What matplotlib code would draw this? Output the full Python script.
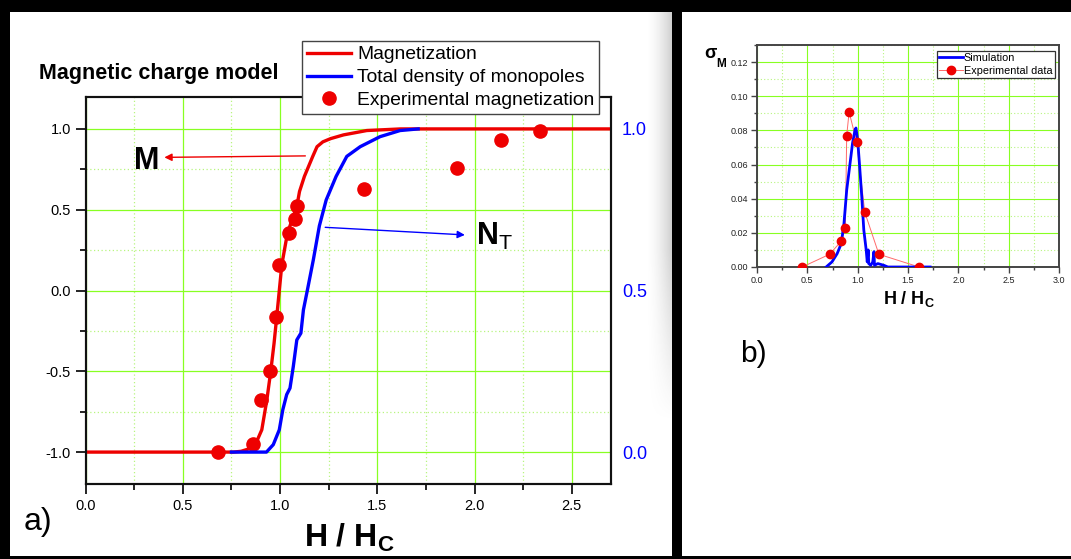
import matplotlib
matplotlib.use("Agg")
import matplotlib.pyplot as plt
import numpy as np
from matplotlib.patches import Rectangle
from matplotlib.lines import Line2D
from matplotlib.ticker import MultipleLocator, FormatStrFormatter

plt.rcParams['font.family'] = ['Liberation Sans', 'DejaVu Sans']
plt.rcParams['mathtext.fontset'] = 'custom'
plt.rcParams['mathtext.rm'] = 'Liberation Sans'
plt.rcParams['mathtext.bf'] = 'Liberation Sans:bold'
plt.rcParams['mathtext.it'] = 'Liberation Sans:italic'
plt.rcParams['axes.unicode_minus'] = False

# panel a) magnetic charge model
h_model = [0.0, 0.76, 0.80, 0.84, 0.863, 0.885, 0.906, 0.932, 0.952, 0.969, 0.983,
           0.996, 1.009, 1.038, 1.086, 1.10, 1.125, 1.168, 1.19, 1.22, 1.26, 1.326,
           1.446, 1.62, 2.7]
m_model = [-1.0, -1.0, -0.995, -0.98, -0.965, -0.92, -0.862, -0.677, -0.5, -0.327, -0.16,
           0.0, 0.16, 0.356, 0.52, 0.613, 0.706, 0.83, 0.89, 0.92, 0.94, 0.963,
           0.99, 1.0, 1.0]

h_nt = [0.75, 0.93, 0.965, 0.996, 1.014, 1.034, 1.051, 1.068, 1.086, 1.107, 1.12,
        1.14, 1.171, 1.202, 1.237, 1.288, 1.343, 1.412, 1.514, 1.617, 1.71]
nt_model = [0.0, 0.0, 0.023, 0.069, 0.131, 0.178, 0.198, 0.265, 0.347, 0.368, 0.44,
            0.5, 0.595, 0.70, 0.78, 0.853, 0.915, 0.945, 0.976, 0.995, 1.0]

h_exp = [0.682, 0.86, 0.903, 0.95, 0.98, 0.995, 1.048, 1.077, 1.086, 1.432, 1.909, 2.135, 2.334]
m_exp = [-1.0, -0.95, -0.68, -0.5, -0.166, 0.16, 0.356, 0.444, 0.52, 0.63, 0.757, 0.932, 0.988]

# panel b) sigma_M
h_sim = [0.687, 0.745, 0.796, 0.837, 0.864, 0.891, 0.925, 0.949, 0.973, 0.983, 1.0,
         1.017, 1.041, 1.061, 1.085, 1.095, 1.105, 1.11, 1.13, 1.15, 1.162, 1.167,
         1.2, 1.26, 1.3, 1.72]
sig_sim = [0.0, 0.003, 0.0078, 0.0137, 0.0255, 0.045, 0.061, 0.0725, 0.080, 0.0814, 0.0745,
           0.061, 0.041, 0.0216, 0.0098, 0.003, 0.010, 0.002, 0.001, 0.003, 0.009, 0.001,
           0.002, 0.001, 0.0, 0.0]

h_sig = [0.449, 0.721, 0.837, 0.878, 0.891, 0.915, 0.99, 1.071, 1.211, 1.61]
sig_exp = [0.0, 0.00745, 0.0151, 0.0229, 0.0769, 0.0908, 0.0731, 0.032, 0.00745, 0.0]

W, H = 1071, 559
def fx(x):
    return x / W
def fy(y):
    return 1 - y / H

RED = '#ee0000'
BLUE = '#0000ff'
GMAJ = '#88ff22'
GMIN = '#b8f580'

fig = plt.figure(figsize=(W / 100, H / 100), dpi=100, facecolor='black')
# white panels on black frame
fig.patches.append(Rectangle((fx(10), fy(556)), fx(672) - fx(10), fy(12) - fy(556),
                             transform=fig.transFigure, facecolor='white', edgecolor='none', zorder=-2))
fig.patches.append(Rectangle((fx(682), fy(556)), fx(1071) - fx(682), fy(12) - fy(556),
                             transform=fig.transFigure, facecolor='white', edgecolor='none', zorder=-2))

# soft shadow at right edge of panel a)
sh = fig.add_axes([fx(646), fy(556), 26 / W, 544 / H], zorder=-1)
cols = np.linspace(0, 1, 26) ** 1.6
rows = np.clip((420 - np.linspace(12, 556, 544)) / 170, 0, 1)
rgba = np.zeros((544, 26, 4))
rgba[..., :3] = 0.55
rgba[..., 3] = 0.4 * rows[:, None] * cols[None, :]
sh.imshow(rgba, aspect='auto', extent=(0, 1, 0, 1))
sh.axis('off')

# ---------------- panel a)
ax = fig.add_axes([fx(85.6), fy(484.4), (610.7 - 85.6) / W, (484.4 - 96.6) / H])
ax.set_axisbelow(True)
ax.plot(h_model, m_model, color=RED, lw=2.4, zorder=3)
ax.plot(h_exp, m_exp, 'o', color=RED, ms=9.5, zorder=5)
ax.set_xlim(0, 2.7)
ax.set_ylim(-1.2, 1.2)
ax.set_xticks(np.arange(0, 2.51, 0.5))
ax.set_yticks(np.arange(-1, 1.01, 0.5))
ax.xaxis.set_minor_locator(MultipleLocator(0.25))
ax.yaxis.set_minor_locator(MultipleLocator(0.25))
ax.xaxis.set_major_formatter(FormatStrFormatter('%.1f'))
ax.yaxis.set_major_formatter(FormatStrFormatter('%.1f'))
ax.grid(which='major', color=GMAJ, lw=0.9)
ax.grid(which='minor', color=GMIN, lw=0.9, ls=(0, (1, 2)))
ax.tick_params(which='major', direction='out', length=7, width=1.2, labelsize=10.5, pad=3.5)
ax.tick_params(which='minor', direction='out', length=4, width=1.2)
for s in ax.spines.values():
    s.set_linewidth(1.5)
    s.set_color('#111111')

ax2 = ax.twinx()
ax2.plot(h_nt, nt_model, color=BLUE, lw=2.4, zorder=3)
ax2.set_ylim(-0.1, 1.1)
ax2.set_yticks([0.0, 0.5, 1.0])
ax2.yaxis.set_major_formatter(FormatStrFormatter('%.1f'))
ax2.tick_params(axis='y', length=0, pad=8, labelcolor=BLUE, labelsize=13)
for s in ax2.spines.values():
    s.set_linewidth(1.5)
    s.set_color('#111111')

ax.annotate('', xy=(0.405, 0.824), xytext=(1.13, 0.833),
            arrowprops=dict(arrowstyle='-|>', color=RED, lw=1.0, mutation_scale=11, shrinkA=0, shrinkB=0))
ax.annotate('', xy=(1.95, 0.344), xytext=(1.232, 0.391),
            arrowprops=dict(arrowstyle='-|>', color=BLUE, lw=1.0, mutation_scale=11, shrinkA=0, shrinkB=0))
ax.text(0.249, 0.753, 'M', fontsize=22, fontweight='bold', ha='left', va='baseline')
ax.text(2.008, 0.284, r'$\mathbf{N}_\mathrm{T}$', fontsize=22, ha='left', va='baseline')

fig.text(fx(39), fy(78.5), 'Magnetic charge model', fontsize=15.5, fontweight='bold', va='baseline')
fig.text(fx(304), fy(547), r'$\mathbf{H\ /\ H}_\mathbf{C}$', fontsize=23, va='baseline')
fig.text(fx(24), fy(530), 'a)', fontsize=23, va='baseline')

leg_a = [Line2D([], [], color=RED, lw=2.4),
         Line2D([], [], color=BLUE, lw=2.4),
         Line2D([], [], color=RED, ls='none', marker='o', ms=9.5)]
la = fig.legend(leg_a, ['Magnetization', 'Total density of monopoles', 'Experimental magnetization'],
                loc='upper left', bbox_to_anchor=(fx(302), fy(41)), bbox_transform=fig.transFigure,
                fontsize=13.9, handlelength=2.3, handletextpad=0.3, borderpad=0.25, labelspacing=0.28,
                fancybox=False, framealpha=1, edgecolor='#444444', borderaxespad=0)
la.get_frame().set_linewidth(1.0)

# ---------------- panel b)
axb = fig.add_axes([fx(757), fy(267), (1059 - 757) / W, (267 - 45) / H])
axb.set_axisbelow(True)
axb.plot(h_sig, sig_exp, color='#ff6a6a', lw=0.7, zorder=2)
axb.plot(h_sim, sig_sim, color=BLUE, lw=2.0, zorder=3)
axb.plot(h_sig, sig_exp, 'o', color=RED, ms=6, zorder=4)
axb.set_xlim(0, 3.0)
axb.set_ylim(0, 0.13)
axb.set_xticks(np.arange(0, 3.01, 0.5))
axb.set_yticks(np.arange(0, 0.121, 0.02))
axb.xaxis.set_minor_locator(MultipleLocator(0.25))
axb.yaxis.set_minor_locator(MultipleLocator(0.01))
axb.xaxis.set_major_formatter(FormatStrFormatter('%.1f'))
axb.yaxis.set_major_formatter(FormatStrFormatter('%.2f'))
axb.grid(which='major', color=GMAJ, lw=0.8)
axb.grid(which='minor', color=GMIN, lw=0.8, ls=(0, (1, 2)))
axb.tick_params(which='major', direction='out', length=4, width=1.0, labelsize=6.5,
                labelcolor='#222222', color='#444444', pad=2.5)
axb.tick_params(which='minor', direction='out', length=2.5, width=1.0, color='#444444')
for s in axb.spines.values():
    s.set_linewidth(1.4)
    s.set_color('#444444')

leg_b = [Line2D([], [], color=BLUE, lw=2.0),
         Line2D([], [], color='#ff6a6a', lw=0.7, marker='o', ms=6, mfc=RED, mec=RED)]
lb = fig.legend(leg_b, ['Simulation', 'Experimental data'],
                loc='upper left', bbox_to_anchor=(fx(936.7), fy(50.7)), bbox_transform=fig.transFigure,
                fontsize=7.8, handlelength=2.2, handletextpad=0.1, borderpad=0.2, labelspacing=0.3,
                fancybox=False, framealpha=1, edgecolor='#333333', borderaxespad=0)
lb.get_frame().set_linewidth(0.9)

fig.text(fx(704), fy(58.3), 'σ', fontsize=13, fontweight='bold', va='baseline')
fig.text(fx(716.7), fy(67.3), 'M', fontsize=8.5, fontweight='bold', va='baseline')
fig.text(fx(883), fy(304), r'$\mathbf{H\ /\ H}_\mathbf{C}$', fontsize=13, va='baseline')
fig.text(fx(740), fy(361.7), 'b)', fontsize=21.5, va='baseline')

fig.savefig('out.png', dpi=100, facecolor='black')
